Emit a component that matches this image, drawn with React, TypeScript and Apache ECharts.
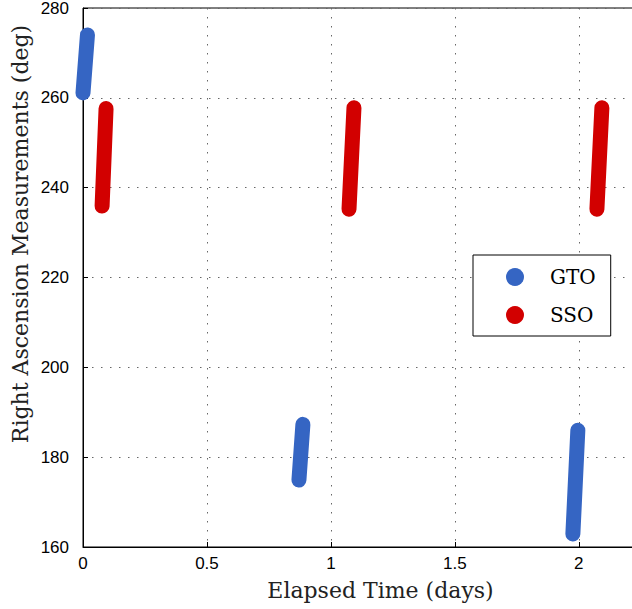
import React, { useEffect, useRef } from "react";
import * as echarts from "echarts";

// Streak endpoints: [start, end]
const gtoX = [[0.0, 0.018], [0.871, 0.887], [1.976, 1.996]];
const gtoY = [[261.1, 274.0], [174.9, 187.3], [162.9, 186.0]];
const ssoX = [[0.077, 0.093], [1.073, 1.093], [2.073, 2.093]];
const ssoY = [[235.9, 257.6], [235.2, 257.8], [235.2, 257.8]];

const seriesNames = ["GTO", "SSO"];
const seriesColors = ["#3565c3", "#d20000"];

const xTicks = [0, 0.5, 1, 1.5, 2];
const yTicks = [160, 180, 200, 220, 240, 260, 280];

const xTitle = "Elapsed Time (days)";
const yTitle = "Right Ascension Measurements (deg)";

const serif = "DejaVu Serif";
const sans = "Liberation Sans";

function makeSeries(name: string, color: string, xs: number[][], ys: number[][]) {
  return xs.map((xp, i) => ({
    name,
    type: "line",
    data: [
      [xp[0], ys[i][0]],
      [xp[1], ys[i][1]],
    ],
    symbol: "none",
    clip: false,
    itemStyle: { color },
    lineStyle: { color, width: 15, cap: "round" },
  }));
}

export default function App() {
  const ref = useRef<HTMLDivElement>(null);
  useEffect(() => {
    const chart = echarts.init(ref.current!, null, { renderer: "svg" });
    chart.setOption({
      animation: false,
      backgroundColor: "#fff",
      grid: {
        left: 83,
        top: 8,
        width: 595,
        height: 539,
        show: true,
        borderColor: "#000",
        borderWidth: 1,
        containLabel: false,
        outerBoundsMode: "none",
      },
      graphic: [
        {
          type: "text",
          x: 20,
          y: 234,
          rotation: Math.PI / 2,
          style: {
            text: yTitle,
            fontFamily: serif,
            fontSize: 22,
            fill: "#222",
            align: "center",
            verticalAlign: "middle",
          },
        },
      ],
      legend: {
        orient: "vertical",
        left: 473,
        top: 255,
        icon: "circle",
        itemWidth: 18,
        itemHeight: 18,
        itemGap: 18,
        padding: [12, 15, 11, 33],
        borderColor: "#000",
        borderWidth: 1,
        backgroundColor: "#fff",
        data: seriesNames,
        textStyle: { fontFamily: serif, fontSize: 20, color: "#000", padding: [0, 0, 0, 21] },
      },
      xAxis: {
        type: "value",
        min: 0,
        max: 2.4,
        interval: 0.5,
        name: xTitle,
        nameLocation: "middle",
        nameGap: 32,
        nameTextStyle: { fontFamily: serif, fontSize: 22, color: "#222" },
        axisLine: { show: true, lineStyle: { color: "#000", width: 1 } },
        axisTick: { show: true, inside: true, length: 5, lineStyle: { color: "#000" } },
        axisLabel: {
          fontFamily: sans,
          fontSize: 17,
          color: "#000",
          margin: 8,
          showMaxLabel: false,
          formatter: (v: number) => (xTicks.some((t) => Math.abs(t - v) < 1e-9) ? String(v) : ""),
        },
        splitLine: { show: true, lineStyle: { color: "#666", type: [1.5, 7.5], width: 1 } },
      },
      yAxis: {
        type: "value",
        min: yTicks[0],
        max: yTicks[yTicks.length - 1],
        interval: 20,
        axisLine: { show: true, lineStyle: { color: "#000", width: 1 } },
        axisTick: { show: true, inside: true, length: 5, lineStyle: { color: "#000" } },
        axisLabel: { fontFamily: sans, fontSize: 17, color: "#000", margin: 14 },
        splitLine: { show: true, lineStyle: { color: "#666", type: [1.5, 7.5], width: 1 } },
      },
      series: [
        ...makeSeries(seriesNames[0], seriesColors[0], gtoX, gtoY),
        ...makeSeries(seriesNames[1], seriesColors[1], ssoX, ssoY),
      ],
    });
    return () => chart.dispose();
  }, []);
  return (
    <div
      ref={ref}
      style={{ position: "fixed", left: 0, top: 0, width: 632, height: 609, background: "#fff" }}
    />
  );
}
